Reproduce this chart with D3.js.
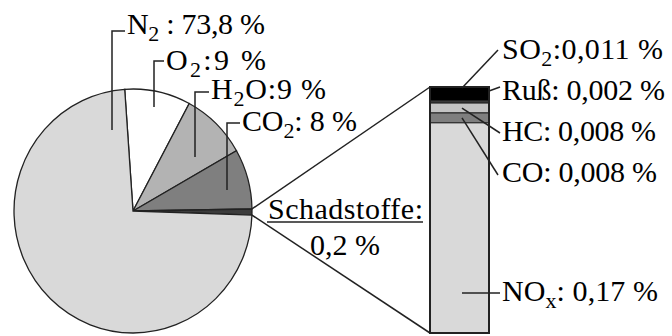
<!DOCTYPE html>
<html>
<head>
<meta charset="utf-8">
<script src="https://cdn.jsdelivr.net/npm/d3@7"></script>
<style>
  body { margin: 0; background: #fff; }
</style>
</head>
<body>
<svg id="chart" width="672" height="336"></svg>
<script>
// pie: composition of exhaust gas (%)
const pieNames = ["O2", "H2O", "CO2", "Schadstoffe", "N2"];
const pieValues = [9, 9, 8, 0.2, 73.8];

// stacked bar: breakdown of the pollutants (%)
const barNames = ["SO2", "Ruß", "HC", "CO", "NOx"];
const barValues = [0.011, 0.002, 0.008, 0.008, 0.17];

const pieColors = { "O2": "#ffffff", "H2O": "#b3b3b3", "CO2": "#7f7f7f", "Schadstoffe": "#3c3c3c", "N2": "#d9d9d9" };
const barColors = { "SO2": "#000000", "Ruß": "#3c3c3c", "HC": "#c4c4c4", "CO": "#7f7f7f", "NOx": "#d9d9d9" };

const svg = d3.select("#chart");
const FONT = 30, SUB = 22;
const stroke = "#222";

function addText(x, y) {
  return svg.append("text").attr("x", x).attr("y", y)
    .attr("font-family", "Liberation Serif")
    .attr("font-size", FONT);
}

/**
 * Writes "N2: 73,8 %" style label, digits (and trailing x) as subscripts.
 */
function richLabel(x, y, name, rest, width) {
  const t = addText(x, y);
  const parts = name.split(/(\d|x$)/);
  let shifted = false;
  parts.forEach((p, i) => {
    if (p === "") return;
    if (i % 2 === 1) {
      t.append("tspan").attr("dy", 7).attr("font-size", SUB).text(p);
      shifted = true;
    } else {
      t.append("tspan").attr("dy", shifted ? -7 : null).text(p);
      shifted = false;
    }
  });
  t.append("tspan").attr("dy", shifted ? -7 : null).text(rest);
  if (width) t.attr("textLength", width).attr("lengthAdjust", "spacing");
  return t;
}

const fmt = v => String(v).replace(".", ",");

// ---- pie ----
const cx = 133, cy = 211, r = 119, sy = 1.025;
const deg = Math.PI / 180;
const pieData = pieNames.map((n, i) => ({ name: n, value: pieValues[i] }));
// tiny slices get a minimum visible angle
const pie = d3.pie().sort(null).value(d => Math.max(d.value, 0.8))
  .startAngle(-4 * deg).endAngle(-4 * deg + 2 * Math.PI);
const arcs = pie(pieData);
const arc = d3.arc().innerRadius(0).outerRadius(r);

svg.append("g")
  .attr("transform", `translate(${cx},${cy}) scale(1,${sy})`)
  .selectAll("path")
  .data(arcs)
  .join("path")
  .attr("d", arc)
  .attr("fill", d => pieColors[d.data.name])
  .attr("stroke", stroke)
  .attr("stroke-width", 1.3);

// pie labels with bracket leaders
const pieLabelLayout = {
  "N2":  { tx: 127, ty: 34,  lx: 112, top: 31,  bot: 130, w: 138, sep: " : " },
  "O2":  { tx: 166, ty: 70,  lx: 154, top: 61,  bot: 107, w: 100, sep: ":" },
  "H2O": { tx: 211, ty: 99,  lx: 195, top: 92,  bot: 157, w: 115, sep: ":" },
  "CO2": { tx: 242, ty: 131, lx: 227, top: 123, bot: 190, w: 115, sep: ": " }
};
pieData.forEach(d => {
  const L = pieLabelLayout[d.name];
  if (!L) return;
  svg.append("path")
    .attr("d", `M${L.lx},${L.bot}V${L.top}H${L.tx - 2}`)
    .attr("fill", "none").attr("stroke", stroke).attr("stroke-width", 1.5);
  richLabel(L.tx, L.ty, d.name, L.sep + fmt(d.value) + " %", L.w);
});

// ---- stacked bar ----
const barX = 430, barW = 59, barTop = 87, barBottom = 333;
const total = d3.sum(barValues);
const y = d3.scaleLinear().domain([0, total]).range([barTop, barBottom]);
let acc = 0;
const barData = barNames.map((n, i) => {
  const d = { name: n, value: barValues[i], y0: acc, y1: acc + barValues[i] };
  acc += barValues[i];
  return d;
});

svg.append("g")
  .selectAll("rect")
  .data(barData)
  .join("rect")
  .attr("x", barX)
  .attr("width", barW)
  .attr("y", d => y(d.y0))
  .attr("height", d => y(d.y1) - y(d.y0))
  .attr("fill", d => barColors[d.name])
  .attr("stroke", stroke)
  .attr("stroke-width", 1);

svg.append("rect")
  .attr("x", barX).attr("y", barTop)
  .attr("width", barW).attr("height", barBottom - barTop)
  .attr("fill", "none").attr("stroke", stroke).attr("stroke-width", 2);

// zoom lines from pollutant slice to bar
const sl = arcs.find(a => a.data.name === "Schadstoffe");
const edge = a => [cx + r * Math.sin(a), cy - r * sy * Math.cos(a)];
const p0 = edge(sl.startAngle), p1 = edge(sl.endAngle);
svg.append("line").attr("x1", p0[0]).attr("y1", p0[1]).attr("x2", barX).attr("y2", barTop)
  .attr("stroke", stroke).attr("stroke-width", 1.5);
svg.append("line").attr("x1", p1[0]).attr("y1", p1[1]).attr("x2", barX).attr("y2", barBottom)
  .attr("stroke", stroke).attr("stroke-width", 1.5);

// Schadstoffe label
addText(268, 219)
  .attr("textLength", 155).attr("lengthAdjust", "spacing")
  .text(sl.data.name + ":");
svg.append("line").attr("x1", 267).attr("x2", 423).attr("y1", 222).attr("y2", 222)
  .attr("stroke", stroke).attr("stroke-width", 1.5);
addText(345, 255).attr("text-anchor", "middle").text(fmt(sl.data.value) + " %");

// bar labels
const barLabelLayout = {
  "SO2": { sx: 462, sy: barTop + 1, ex: 498, ey: 50,  ty: 59,  w: 161, sep: ":" },
  "Ruß": { sx: barX + barW, sy: 91, ex: 500, ey: 87, ty: 100, w: 163, sep: ": " },
  "HC":  { sx: 462, sy: null, ex: 500, ey: 133, ty: 141, w: 154, sep: ": " },
  "CO":  { sx: 462, sy: null, ex: 498, ey: 175, ty: 182, w: 155, sep: ": " },
  "NOx": { sx: 462, sy: 293, ex: 500, ey: 293, ty: 301, w: 156, sep: ": " }
};
barData.forEach(d => {
  const L = barLabelLayout[d.name];
  const sY = L.sy === null ? (y(d.y0) + y(d.y1)) / 2 : L.sy;
  svg.append("line").attr("x1", L.sx).attr("y1", sY).attr("x2", L.ex).attr("y2", L.ey)
    .attr("stroke", stroke).attr("stroke-width", 1.5);
  richLabel(502, L.ty, d.name, L.sep + fmt(d.value) + " %", L.w);
});
</script>
</body>
</html>
